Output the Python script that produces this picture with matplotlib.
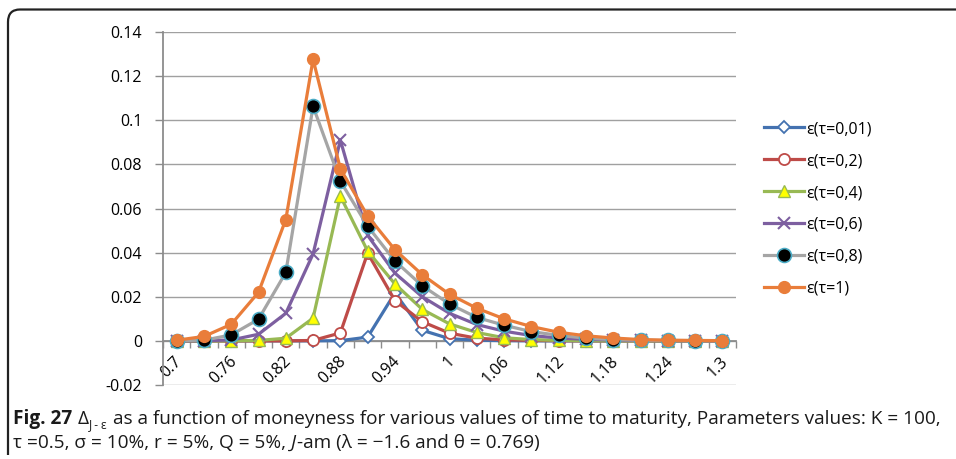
import numpy as np
import matplotlib
matplotlib.use('Agg')
import matplotlib.pyplot as plt
from matplotlib.path import Path
from matplotlib.patches import PathPatch
from matplotlib.transforms import IdentityTransform, ScaledTranslation

###############################################################################
# Data

moneyness = [0.70, 0.73, 0.76, 0.79, 0.82, 0.85, 0.88, 0.91, 0.94, 0.97, 1.00,
             1.03, 1.06, 1.09, 1.12, 1.15, 1.18, 1.21, 1.24, 1.27, 1.30]
tick_vals = [0.70, 0.76, 0.82, 0.88, 0.94, 1.00, 1.06, 1.12, 1.18, 1.24, 1.30]
tick_labels = ['0.7', '0.76', '0.82', '0.88', '0.94', '1', '1.06', '1.12',
               '1.18', '1.24', '1.3']
ytick_vals = [-0.02, 0, 0.02, 0.04, 0.06, 0.08, 0.1, 0.12, 0.14]
ytick_labels = ['-0.02', '0', '0.02', '0.04', '0.06', '0.08', '0.1', '0.12', '0.14']

tau_001 = [0, 0, 0, 0, 0, 0, 0.0001, 0.0017, 0.0217, 0.0048, 0.0010, 0.0003,
           0.0001, 0, 0, 0, 0, 0, 0, 0, 0]
tau_02 = [0, 0, 0, 0, 0, 0.0002, 0.0036, 0.0398, 0.0183, 0.0087, 0.0035, 0.0012,
          0.0005, 0.0002, 0.0001, 0, 0, 0, 0, 0, 0]
tau_04 = [0, 0, 0, 0.0002, 0.0012, 0.0103, 0.0656, 0.0407, 0.0258, 0.0143, 0.0077,
          0.0038, 0.0014, 0.0006, 0.0002, 0.0001, 0, 0, 0, 0, 0]
tau_06 = [0, 0.0001, 0.0004, 0.0030, 0.0125, 0.0394, 0.0910, 0.0478, 0.0307, 0.0200,
          0.0125, 0.0074, 0.0044, 0.0024, 0.0013, 0.0007, 0.0004, 0.0002, 0.0001,
          0.0001, 0]
tau_08 = [0.0001, 0.0003, 0.0027, 0.0098, 0.0310, 0.1063, 0.0724, 0.0520, 0.0362,
          0.0250, 0.0167, 0.0106, 0.0071, 0.0042, 0.0025, 0.0012, 0.0006, 0.0003,
          0.0002, 0.0001, 0.0001]
tau_1 = [0.0003, 0.0020, 0.0075, 0.0220, 0.0550, 0.1276, 0.0780, 0.0566, 0.0413,
         0.0300, 0.0211, 0.0148, 0.0100, 0.0065, 0.0039, 0.0023, 0.0013, 0.0006,
         0.0003, 0.0002, 0.0001]

series_names = ['ε(τ=0,01)', 'ε(τ=0,2)', 'ε(τ=0,4)', 'ε(τ=0,6)', 'ε(τ=0,8)', 'ε(τ=1)']

###############################################################################
# Figure set up

W, H = 956, 459
plt.rcParams['font.family'] = ['Open Sans', 'DejaVu Sans']
fig = plt.figure(figsize=(W / 100, H / 100), dpi=100)
ax = fig.add_axes([163 / W, 1 - 385 / H, (736 - 163) / W, (385 - 32) / H])

grey = '#8c8c8c'
styles = [
    dict(color='#4472b0', marker='D', mfc='white', mec='#4472b0', ms=6.5, mew=1.3),
    dict(color='#be4b48', marker='o', mfc='white', mec='#be4b48', ms=8, mew=1.3),
    dict(color='#98b954', marker='^', mfc='#ffff00', mec='#98b954', ms=8, mew=1.0),
    dict(color='#7d5fa0', marker='x', mfc='#7d5fa0', mec='#7d5fa0', ms=8, mew=1.5),
    dict(color='#a5a5a5', marker='o', mfc='black', mec='#4bacc6', ms=10, mew=1.2),
    dict(color='#e97d3a', marker='o', mfc='#e97d3a', mec='#e97d3a', ms=8.5, mew=1.0),
]
all_series = [tau_001, tau_02, tau_04, tau_06, tau_08, tau_1]

for vals, name, st in zip(all_series, series_names, styles):
    ax.plot(moneyness, vals, lw=2.3, label=name, clip_on=False, zorder=3, **st)

# Axes
ax.set_xlim(0.685, 1.315)
ax.set_ylim(-0.02, 0.14)
ax.set_yticks(ytick_vals)
ax.set_yticklabels(ytick_labels)
ax.yaxis.grid(True, color='#a0a0a0', lw=1.0)
ax.set_axisbelow(True)
ax.tick_params(axis='y', length=6, width=1.0, color=grey, pad=9, labelsize=11.5)

for s in ['top', 'right']:
    ax.spines[s].set_visible(False)
ax.spines['left'].set_color(grey)
ax.spines['left'].set_linewidth(1.3)
ax.spines['bottom'].set_position(('data', 0))
ax.spines['bottom'].set_color(grey)
ax.spines['bottom'].set_linewidth(1.3)

ax.set_xticks(tick_vals)
ax.set_xticklabels(tick_labels)
ax.set_xticks(np.arange(22) * 0.03 + 0.685, minor=True)
ax.tick_params(axis='x', which='major', length=0, pad=13, labelsize=11.5)
ax.tick_params(axis='x', which='minor', length=5, width=1.0, color=grey)
offset = ScaledTranslation(3 / 100, 0, fig.dpi_scale_trans)
for lab in ax.get_xticklabels():
    lab.set_rotation(45)
    lab.set_rotation_mode('anchor')
    lab.set_ha('right')
    lab.set_va('center')
    lab.set_transform(lab.get_transform() + offset)

leg = ax.legend(loc='center left', bbox_to_anchor=(758 / W, 1 - 209 / H),
                bbox_transform=fig.transFigure, frameon=False, fontsize=11.5,
                handlelength=2.5, handletextpad=0.1, labelspacing=1.0,
                borderaxespad=0)

###############################################################################
# Frame around figure (top and left edges with rounded corner)

verts = [(8, 4), (8, H - 22), (8, H - 9.5), (20, H - 9.5), (W, H - 9.5)]
codes = [Path.MOVETO, Path.LINETO, Path.CURVE3, Path.CURVE3, Path.LINETO]
frame = PathPatch(Path(verts, codes), fill=False, lw=1.6, ec='#222222',
                  transform=IdentityTransform())
fig.add_artist(frame)

###############################################################################
# Caption, laid out as runs of text on a baseline

cap_family = ['Open Sans', 'DejaVu Sans']
cap_size = 13.7
renderer = fig.canvas.get_renderer()


def put_runs(x, y, runs):
    for text, kw, dy, gap in runs:
        t = fig.text(x / W, (y + dy) / H, text, va='baseline', ha='left',
                     family=cap_family, fontsize=kw.get('size', cap_size),
                     weight=kw.get('weight', 'normal'),
                     style=kw.get('style', 'normal'), color='#1a1a1a')
        x = t.get_window_extent(renderer).x1 + gap


put_runs(13, H - 424, [
    ('Fig. 27', dict(weight='bold'), 0, 5),
    ('Δ', {}, 0, 1),
    ('J - ε', dict(size=8.5), -4, 5),
    ('as a function of moneyness for various values of time to maturity, '
     'Parameters values: K = 100,', {}, 0, 0),
])
put_runs(13, H - 448, [
    ('τ =0.5, σ = 10%, r = 5%, Q = 5%,', {}, 0, 5),
    ('J', dict(style='italic'), 0, 0.5),
    ('-am (λ = −1.6 and θ = 0.769)', {}, 0, 0),
])

fig.savefig('out.png', dpi=100)
